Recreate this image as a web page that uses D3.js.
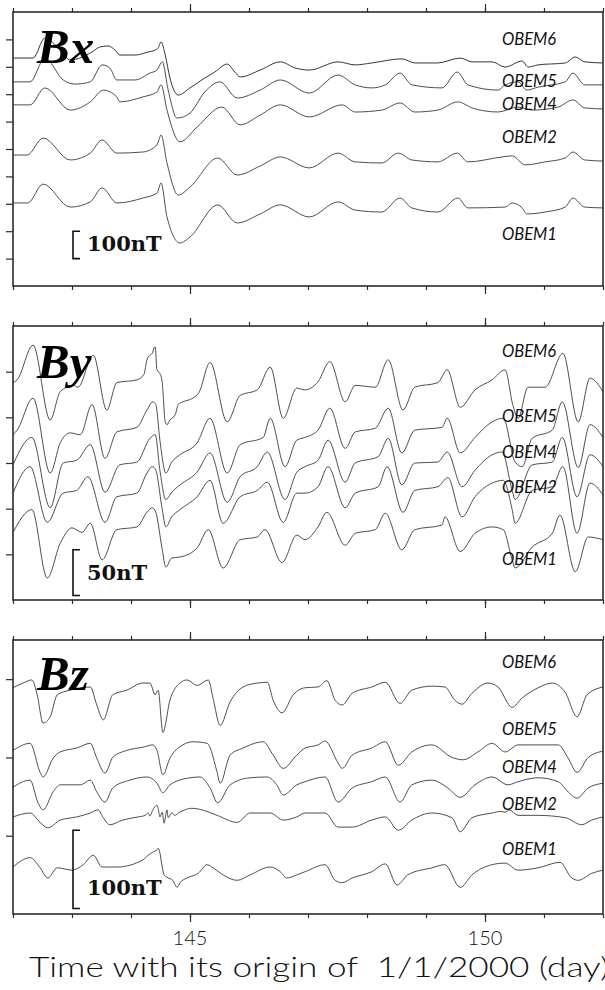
<!DOCTYPE html>
<html>
<head>
<meta charset="utf-8">
<script src="https://cdn.jsdelivr.net/npm/d3@7"></script>
<style>
  html, body { margin: 0; padding: 0; background: #fff; }
  svg { display: block; }
  .lbl { font-family: "Lato", "Open Sans", sans-serif; font-weight: 400; font-style: italic; fill: #111; }
</style>
</head>
<body>
<svg id="chart" width="605" height="990"></svg>
<script>
// Seafloor magnetometer records, days 142-152 of 2000 (time in days, field in nT, stacked)
const stations = ["OBEM6", "OBEM5", "OBEM4", "OBEM2", "OBEM1"];
const dayTicks = [142, 143, 144, 145, 146, 147, 148, 149, 150, 151, 152];
const labeledDays = [145, 150];

// ---- Bx component ----
const bxObem6 = [[142.00,832],[142.34,832],[142.54,905],[142.80,861],[142.97,825],[143.34,854],[143.47,872],[143.61,876],[143.73,861],[143.81,843],[144.07,843],[144.29,854],[144.41,861],[144.46,869],[144.51,891],[144.58,843],[144.66,759],[144.80,697],[145.00,723],[145.25,759],[145.42,781],[145.63,810],[145.76,781],[145.85,763],[146.19,788],[146.53,818],[146.78,796],[147.02,788],[147.51,818],[147.80,807],[148.08,814],[148.59,829],[148.81,814],[149.20,814],[149.58,832],[149.78,818],[150.12,818],[150.34,799],[150.63,821],[150.73,799],[150.90,807],[151.36,814],[151.53,836],[151.69,818],[152.00,814]];
const bxObem5 = [[142.00,745],[142.29,745],[142.54,832],[142.85,752],[143.05,737],[143.31,745],[143.51,807],[143.64,796],[143.76,752],[144.07,752],[144.32,777],[144.44,788],[144.53,818],[144.63,715],[144.78,613],[145.00,631],[145.25,708],[145.51,745],[145.80,686],[146.19,715],[146.53,752],[147.02,704],[147.51,770],[147.80,734],[148.08,723],[148.31,734],[148.56,777],[148.76,734],[149.27,723],[149.53,781],[149.71,734],[150.22,715],[150.34,734],[150.56,745],[150.71,715],[150.90,726],[151.36,745],[151.49,777],[151.69,734],[152.00,734]];
const bxObem4 = [[142.00,661],[142.29,661],[142.54,723],[142.97,642],[143.31,672],[143.53,715],[143.76,690],[143.81,672],[144.20,690],[144.44,708],[144.51,734],[144.61,642],[144.83,526],[145.12,580],[145.54,653],[145.85,588],[146.19,624],[146.53,661],[147.02,617],[147.58,661],[147.80,635],[148.25,642],[148.56,668],[148.81,635],[149.20,642],[149.54,672],[149.78,650],[150.22,635],[150.56,653],[150.80,642],[151.24,653],[151.49,679],[151.69,650],[152.00,646]];
const bxObem2 = [[142.00,478],[142.24,478],[142.51,540],[142.97,460],[143.31,485],[143.51,533],[143.76,485],[144.20,489],[144.44,515],[144.51,551],[144.61,449],[144.80,332],[145.00,361],[145.47,467],[145.80,405],[146.19,438],[146.53,471],[147.02,431],[147.51,485],[147.80,453],[148.25,449],[148.53,485],[148.76,460],[149.20,453],[149.53,485],[149.71,453],[150.29,471],[150.46,475],[150.68,442],[151.02,453],[151.36,467],[151.49,489],[151.69,460],[152.00,456]];
const bxObem1 = [[142.00,303],[142.25,303],[142.51,372],[142.97,288],[143.31,307],[143.51,358],[143.76,303],[144.20,321],[144.44,339],[144.51,376],[144.61,252],[144.83,157],[145.00,179],[145.47,296],[145.80,230],[146.19,263],[146.53,296],[147.02,252],[147.51,307],[147.80,277],[148.25,270],[148.56,321],[148.76,285],[149.20,270],[149.54,321],[149.71,285],[150.34,288],[150.46,303],[150.63,285],[150.71,263],[151.02,270],[151.36,288],[151.49,321],[151.69,288],[152.00,285]];

// ---- By component ----
const byObem6 = [[142.00,238],[142.07,241],[142.34,279],[142.63,197],[142.80,228],[143.02,235],[143.10,233],[143.36,268],[143.59,208],[143.76,238],[144.10,241],[144.22,247],[144.27,263],[144.32,268],[144.36,270],[144.39,276],[144.41,277],[144.44,252],[144.49,248],[144.53,238],[144.58,195],[144.61,192],[144.66,197],[144.75,203],[144.80,214],[144.88,217],[145.05,221],[145.15,227],[145.34,260],[145.63,195],[145.85,224],[146.14,230],[146.36,255],[146.58,199],[146.81,232],[146.95,230],[147.17,239],[147.37,261],[147.63,217],[147.80,235],[148.14,233],[148.36,263],[148.61,208],[148.81,233],[149.20,238],[149.36,252],[149.58,211],[149.83,230],[150.12,241],[150.34,252],[150.47,214],[150.56,199],[150.73,233],[151.02,233],[151.32,270],[151.58,195],[151.78,243],[152.00,228]];
const byObem5 = [[142.00,181],[142.07,186],[142.34,221],[142.63,139],[142.80,172],[142.97,183],[143.14,181],[143.34,214],[143.56,155],[143.76,184],[144.10,189],[144.27,208],[144.37,217],[144.42,214],[144.49,175],[144.59,139],[144.69,151],[144.83,159],[145.12,172],[145.34,199],[145.63,139],[145.85,170],[146.24,178],[146.36,199],[146.61,146],[146.81,175],[146.95,178],[147.17,186],[147.37,210],[147.63,166],[147.80,184],[148.14,188],[148.36,210],[148.59,161],[148.81,186],[149.27,189],[149.36,199],[149.58,161],[149.83,178],[150.12,195],[150.31,199],[150.51,151],[150.63,146],[150.80,177],[151.14,186],[151.31,217],[151.58,145],[151.78,192],[152.00,178]];
const byObem4 = [[142.00,148],[142.32,178],[142.63,101],[142.85,150],[143.08,153],[143.31,170],[143.56,118],[143.81,148],[144.10,151],[144.32,177],[144.41,181],[144.49,142],[144.59,110],[144.69,118],[144.83,126],[145.12,140],[145.34,161],[145.63,107],[145.85,135],[146.14,146],[146.31,162],[146.61,110],[146.81,140],[146.95,146],[147.17,153],[147.34,175],[147.63,129],[147.80,150],[148.19,157],[148.36,177],[148.59,126],[148.81,150],[149.20,151],[149.36,162],[149.61,124],[149.83,142],[150.12,159],[150.29,162],[150.46,120],[150.51,110],[150.80,148],[151.14,151],[151.31,178],[151.56,113],[151.78,159],[152.00,146]];
const byObem2 = [[142.00,117],[142.29,146],[142.58,85],[142.85,117],[143.08,120],[143.27,135],[143.56,85],[143.76,113],[144.10,117],[144.27,139],[144.36,146],[144.42,142],[144.53,99],[144.59,80],[144.69,91],[144.83,99],[145.12,113],[145.34,131],[145.56,84],[145.85,113],[146.14,120],[146.31,129],[146.58,85],[146.81,117],[146.95,117],[147.17,124],[147.34,146],[147.63,101],[147.80,117],[148.19,124],[148.34,146],[148.61,96],[148.81,120],[149.20,124],[149.37,134],[149.61,91],[149.83,113],[150.12,128],[150.31,131],[150.46,99],[150.51,84],[150.80,120],[151.14,124],[151.32,146],[151.56,73],[151.78,128],[152.00,115]];
const byObem1 = [[142.00,74],[142.32,99],[142.58,24],[142.80,62],[143.00,79],[143.17,74],[143.31,84],[143.51,44],[143.76,77],[144.10,80],[144.27,96],[144.36,101],[144.42,96],[144.53,55],[144.59,36],[144.69,46],[144.83,47],[145.12,57],[145.31,77],[145.56,35],[145.85,66],[146.14,69],[146.27,77],[146.56,41],[146.81,71],[146.95,66],[147.17,80],[147.32,96],[147.63,60],[147.80,73],[148.14,77],[148.31,95],[148.59,55],[148.81,77],[149.27,82],[149.32,91],[149.58,53],[149.83,73],[150.12,80],[150.31,77],[150.46,44],[150.51,35],[150.80,58],[151.14,73],[151.27,93],[151.53,31],[151.75,69],[152.00,66]];

// ---- Bz component ----
const bzObem6 = [[142.00,289],[142.17,295],[142.32,299],[142.41,280],[142.51,244],[142.63,252],[142.75,280],[142.97,286],[143.19,289],[143.31,290],[143.42,267],[143.53,248],[143.69,280],[143.93,286],[144.20,295],[144.32,295],[144.41,280],[144.46,286],[144.54,232],[144.66,273],[144.83,295],[144.95,299],[145.12,292],[145.31,299],[145.39,276],[145.51,241],[145.68,271],[145.90,290],[146.14,295],[146.31,296],[146.41,273],[146.56,257],[146.75,280],[146.95,289],[147.17,290],[147.32,298],[147.46,273],[147.58,267],[147.75,282],[148.08,290],[148.31,296],[148.56,269],[148.76,286],[149.10,291],[149.32,290],[149.49,273],[149.61,268],[149.78,282],[150.05,295],[150.22,290],[150.46,264],[150.63,276],[150.90,289],[151.14,295],[151.36,283],[151.56,252],[151.73,280],[152.00,290]];
const bzObem5 = [[142.00,209],[142.29,218],[142.46,181],[142.51,175],[142.68,199],[142.80,207],[143.08,212],[143.31,218],[143.42,199],[143.56,180],[143.69,200],[143.93,209],[144.20,213],[144.37,216],[144.44,209],[144.54,178],[144.66,199],[144.88,216],[145.05,220],[145.29,218],[145.46,181],[145.51,167],[145.68,203],[145.90,212],[146.24,220],[146.41,203],[146.58,186],[146.81,203],[146.95,212],[147.17,216],[147.29,221],[147.51,193],[147.58,186],[147.75,203],[148.08,212],[148.31,220],[148.53,190],[148.76,207],[149.10,216],[149.44,200],[149.63,197],[149.88,207],[150.12,218],[150.34,207],[150.56,216],[150.90,216],[151.24,216],[151.41,199],[151.56,181],[151.75,200],[152.00,208]];
const bzObem4 = [[142.00,162],[142.29,171],[142.42,143],[142.51,133],[142.68,156],[142.80,165],[143.14,165],[143.31,171],[143.42,156],[143.56,143],[143.69,161],[143.98,171],[144.27,175],[144.44,167],[144.54,155],[144.66,165],[145.00,174],[145.17,175],[145.34,161],[145.47,142],[145.68,165],[146.02,174],[146.31,175],[146.47,165],[146.58,152],[146.81,165],[146.95,169],[147.29,175],[147.51,143],[147.75,161],[148.08,169],[148.31,175],[148.56,143],[148.76,165],[149.10,171],[149.37,161],[149.58,149],[149.83,165],[150.12,175],[150.39,165],[150.56,169],[150.90,174],[151.24,169],[151.41,156],[151.56,148],[151.75,161],[152.00,167]];
const bzObem2 = [[142.00,124],[142.29,129],[142.46,117],[142.59,110],[142.80,120],[143.08,124],[143.31,129],[143.44,133],[143.53,123],[143.64,114],[143.86,120],[144.12,124],[144.24,126],[144.29,129],[144.32,125],[144.37,133],[144.44,139],[144.46,135],[144.49,124],[144.53,130],[144.56,116],[144.61,133],[144.63,123],[144.69,129],[144.75,126],[144.80,129],[144.88,132],[145.03,135],[145.25,132],[145.46,126],[145.80,117],[146.02,129],[146.36,129],[146.58,120],[146.81,124],[146.95,129],[147.29,129],[147.51,111],[147.75,111],[148.08,120],[148.31,124],[148.53,107],[148.76,120],[149.10,129],[149.44,123],[149.58,105],[149.78,123],[150.12,129],[150.27,131],[150.34,130],[150.41,133],[150.56,126],[150.90,126],[151.36,123],[151.64,114],[151.81,120],[152.00,124]];
const bzObem1 = [[142.00,60],[142.29,72],[142.46,59],[142.59,46],[142.75,59],[143.00,56],[143.19,63],[143.36,75],[143.51,60],[143.76,60],[144.20,69],[144.29,75],[144.37,79],[144.44,82],[144.46,84],[144.49,78],[144.53,60],[144.56,50],[144.61,47],[144.71,43],[144.78,34],[144.83,40],[144.95,46],[145.14,52],[145.29,63],[145.39,59],[145.56,50],[145.80,43],[146.02,50],[146.36,60],[146.53,54],[146.64,46],[146.81,50],[146.95,54],[147.29,63],[147.46,43],[147.58,40],[147.75,46],[148.08,54],[148.31,64],[148.51,37],[148.69,50],[149.10,59],[149.32,63],[149.58,34],[149.78,50],[150.12,63],[150.34,65],[150.56,56],[150.90,59],[151.27,66],[151.47,46],[151.58,43],[151.81,52],[152.00,56]];

// Vertical extent of each panel (nT), tick spacing and scale-bar span
const bxDomain = [0, 1000], bxTicks = [100, 200, 300, 400, 500, 600, 700, 800, 900], bxBar = [100, 200], bxBarText = "100nT";
const byDomain = [0, 300],  byTicks = [50, 100, 150, 200, 250],                    byBar = [5, 55],    byBarText = "50nT";
const bzDomain = [0, 350],  bzTicks = [100, 200, 300],                              bzBar = [7, 107],   bzBarText = "100nT";

// ---------- layout ----------
const W = 605, left = 13, right = 603, panelH = 274;
const svg = d3.select("#chart");
svg.append("rect").attr("width", W).attr("height", 990).attr("fill", "#fff");

const x = d3.scaleLinear().domain([142, 152]).range([left, right]);

const panels = [
  { comp: "x", top: 12,  domain: bxDomain, ticks: bxTicks, bar: bxBar, barText: bxBarText,
    series: [bxObem6, bxObem5, bxObem4, bxObem2, bxObem1], labelY: [33, 75, 98, 131, 228], titleY: 51, barTextY: 251 },
  { comp: "y", top: 326, domain: byDomain, ticks: byTicks, bar: byBar, barText: byBarText,
    series: [byObem6, byObem5, byObem4, byObem2, byObem1], labelY: [31, 96, 132, 167, 239], titleY: 52, barTextY: 580 },
  { comp: "z", top: 640, domain: bzDomain, ticks: bzTicks, bar: bzBar, barText: bzBarText,
    series: [bzObem6, bzObem5, bzObem4, bzObem2, bzObem1], labelY: [28, 95, 133, 170, 215], titleY: 50, barTextY: 895 }
];

const tickColor = "#2b2b2b";

panels.forEach((p, pi) => {
  const y = d3.scaleLinear().domain(p.domain).range([p.top + panelH, p.top]);
  const g = svg.append("g");

  // traces
  const line = d3.line().x(d => x(d[0])).y(d => y(d[1])).curve(d3.curveMonotoneX);
  p.series.forEach((s, i) => {
    g.append("path").datum(s)
      .attr("d", line)
      .attr("fill", "none")
      .attr("stroke", i === 0 && pi === 0 ? "#2a2a2a" : "#444")
      .attr("stroke-width", 0.95)
      .attr("stroke-linejoin", "round");
  });

  // station labels
  stations.forEach((name, i) => {
    g.append("text").attr("class", "lbl")
      .attr("x", 502).attr("y", p.top + p.labelY[i])
      .attr("font-size", 16.5)
      .text(name);
  });

  // component title, e.g. Bx
  const t = g.append("text")
    .attr("x", 37).attr("y", p.top + p.titleY)
    .attr("font-family", "'Liberation Serif', 'Times New Roman', serif")
    .attr("font-weight", "bold").attr("font-style", "italic")
    .attr("font-size", 49).attr("fill", "#000");
  t.append("tspan").text("B");
  t.append("tspan").text(p.comp);

  // scale bar bracket
  const bx0 = 73, by0 = y(p.bar[1]), by1 = y(p.bar[0]);
  g.append("path")
    .attr("d", `M${bx0 + 7},${by0} H${bx0} V${by1} H${bx0 + 7}`)
    .attr("fill", "none").attr("stroke", "#111").attr("stroke-width", 1.6);
  g.append("text")
    .attr("x", 87).attr("y", p.barTextY)
    .attr("font-family", "'DejaVu Serif', 'Liberation Serif', serif")
    .attr("font-weight", "bold").attr("font-size", 21).attr("fill", "#111")
    .text(p.barText);

  // left ticks
  g.append("g").attr("transform", `translate(${left},0)`)
    .call(d3.axisLeft(y).tickValues(p.ticks).tickSize(7).tickFormat(""))
    .call(a => a.select(".domain").remove())
    .call(a => a.selectAll("line").attr("stroke", tickColor).attr("stroke-width", 1.2));

  // top and bottom day ticks (longer at labelled days)
  [[d3.axisTop, p.top], [d3.axisBottom, p.top + panelH]].forEach(([ax, yy]) => {
    g.append("g").attr("transform", `translate(0,${yy})`)
      .call(ax(x).tickValues(dayTicks).tickSize(4).tickFormat(""))
      .call(a => a.select(".domain").remove())
      .call(a => a.selectAll("line").attr("stroke", tickColor).attr("stroke-width", 1.2));
    g.append("g").attr("transform", `translate(0,${yy})`)
      .call(ax(x).tickValues(labeledDays).tickSize(8).tickFormat(""))
      .call(a => a.select(".domain").remove())
      .call(a => a.selectAll("line").attr("stroke", tickColor).attr("stroke-width", 1.2));
  });

  // frame
  g.append("rect")
    .attr("x", left).attr("y", p.top).attr("width", right - left).attr("height", panelH)
    .attr("fill", "none").attr("stroke", "#2b2b2b").attr("stroke-width", 1.6);

  // day labels under the last panel
  if (pi === panels.length - 1) {
    labeledDays.forEach(d => {
      svg.append("text")
        .attr("x", x(d)).attr("y", p.top + panelH + 31)
        .attr("text-anchor", "middle")
        .attr("font-family", "'Lato', 'Open Sans', sans-serif")
        .attr("font-weight", 300).attr("font-size", 20).attr("fill", "#111")
        .text(d);
    });
  }
});

// time axis title
svg.append("text")
  .attr("x", 29).attr("y", 977)
  .attr("font-family", "'Lato', 'Open Sans', sans-serif")
  .attr("font-weight", 300).attr("font-size", 28).attr("fill", "#111")
  .attr("textLength", 580).attr("lengthAdjust", "spacingAndGlyphs")
  .style("white-space", "pre")
  .text("Time with its origin of  1/1/2000 (day)");
</script>
</body>
</html>
